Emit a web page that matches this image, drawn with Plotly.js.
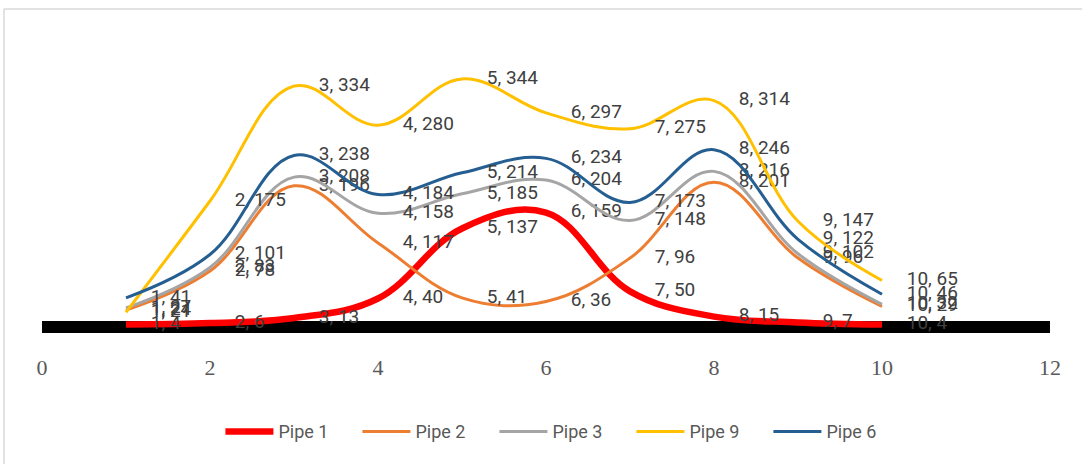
<!DOCTYPE html>
<html>
<head>
<meta charset="utf-8">
<script src="https://cdn.plot.ly/plotly-3.0.1.min.js"></script>
<style>html,body{margin:0;padding:0;background:#fff;}#chart{width:1082px;height:464px;}</style>
</head>
<body>
<div id="chart"></div>
<script>
const xs = [1, 2, 3, 4, 5, 6, 7, 8, 9, 10];
const seriesNames = ['Pipe 1', 'Pipe 2', 'Pipe 3', 'Pipe 9', 'Pipe 6'];
const pipe1 = [4, 6, 13, 40, 137, 159, 50, 15, 7, 4];
const pipe2 = [24, 78, 196, 117, 41, 36, 96, 201, 96, 29];
const pipe3 = [27, 83, 208, 158, 185, 204, 148, 216, 102, 32];
const pipe9 = [21, 175, 334, 280, 344, 297, 275, 314, 147, 65];
const pipe6 = [41, 101, 238, 184, 214, 234, 173, 246, 122, 46];
const xTicks = [0, 2, 4, 6, 8, 10, 12];

const seriesValues = [pipe1, pipe2, pipe3, pipe9, pipe6];
const colors = ['#FF0000', '#ED7D31', '#A5A5A5', '#FFC000', '#255E91'];
const widths = [6.5, 3, 3, 3, 3];

const traces = seriesValues.map((vals, i) => ({
  x: xs,
  y: vals,
  name: seriesNames[i],
  type: 'scatter',
  mode: 'lines+markers+text',
  line: {color: colors[i], width: widths[i], shape: 'spline', smoothing: 1.1},
  marker: {size: 38, color: 'rgba(0,0,0,0)', line: {width: 0}},
  text: xs.map((x, j) => x + ', ' + vals[j]),
  textposition: 'middle right',
  textfont: {family: 'Roboto, sans-serif', size: 19, color: '#404040'},
  cliponaxis: false,
  hoverinfo: 'x+y+name'
}));

const layout = {
  width: 1082,
  height: 464,
  margin: {l: 42, r: 32, t: 20, b: 112},
  paper_bgcolor: '#ffffff',
  plot_bgcolor: '#ffffff',
  showlegend: true,
  legend: {
    orientation: 'h', x: 0.177, xanchor: 'left', y: -0.24, yanchor: 'middle',
    font: {family: 'Roboto, sans-serif', size: 18, color: '#595959'},
    itemwidth: 48, entrywidth: 74, tracegroupgap: 0
  },
  xaxis: {
    range: [0, 12],
    tickvals: xTicks,
    ticktext: xTicks.map(String),
    showgrid: false, zeroline: false, showline: false, ticks: '',
    tickfont: {family: '"Liberation Serif", "Times New Roman", serif', size: 22, color: '#595959'},
    fixedrange: true
  },
  yaxis: {
    range: [-34, 425.5],
    showgrid: false, showticklabels: false, ticks: '', showline: false,
    zeroline: true, zerolinecolor: '#000000', zerolinewidth: 12,
    fixedrange: true
  },
  shapes: [
    {type: 'line', xref: 'paper', yref: 'paper', x0: -0.0377, x1: -0.0377, y0: 1.033, y1: -0.5, line: {color: '#D9D9D9', width: 1.5}},
    {type: 'line', xref: 'paper', yref: 'paper', x0: -0.0377, x1: 1.04, y0: 1.033, y1: 1.033, line: {color: '#D9D9D9', width: 1.5}}
  ]
};

Plotly.newPlot('chart', traces, layout, {displayModeBar: false, staticPlot: true});
</script>
</body>
</html>
